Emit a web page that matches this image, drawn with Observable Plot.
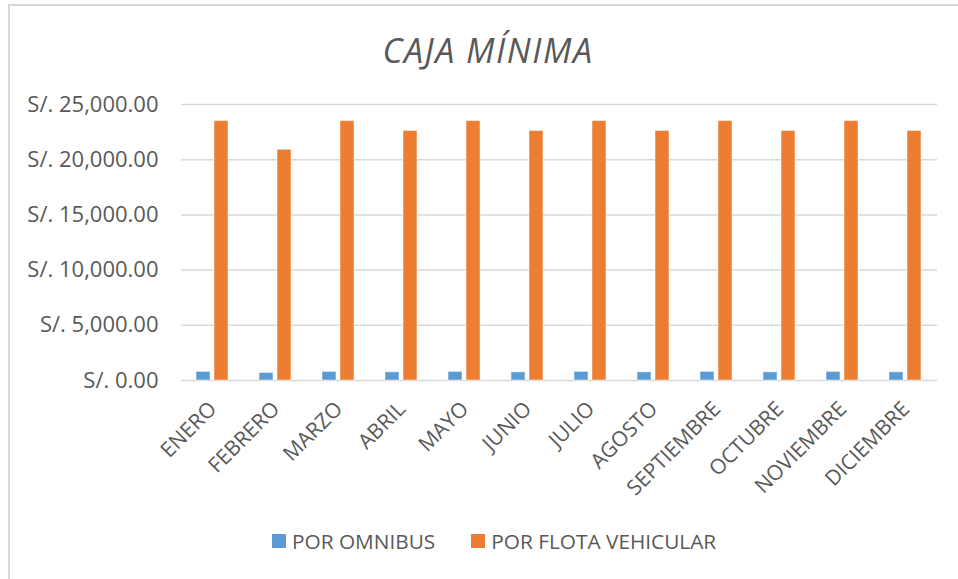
<!DOCTYPE html>
<html>
<head>
<meta charset="utf-8">
<script src="https://cdn.jsdelivr.net/npm/d3@7"></script>
<script src="https://cdn.jsdelivr.net/npm/@observablehq/plot@0.6"></script>
<style>
  html, body { margin: 0; padding: 0; background: #fff; }
  body { width: 958px; height: 579px; position: relative; overflow: hidden; font-family: "Open Sans", sans-serif; color: #595959; }
  #frame { position: absolute; left: 8px; top: 4px; width: 1000px; height: 1000px; border: 2px solid #d9d9d9; box-sizing: border-box; }
  #title { position: absolute; left: 0; width: 976px; top: 33px; text-align: center; font-size: 34px; line-height: 34px; letter-spacing: 1.5px; font-style: italic; color: #595959; }
  #chart { position: absolute; left: 0; top: 0; }
  #legend { position: absolute; top: 531px; left: 272px; display: flex; align-items: center; font-size: 20.8px; line-height: 20px; color: #595959; }
  .sw { width: 14px; height: 14px; display: inline-block; margin-right: 6px; }
  .item { display: flex; align-items: center; }
</style>
</head>
<body>
<div id="frame"></div>
<div id="title">CAJA MÍNIMA</div>
<div id="chart"></div>
<div id="legend"></div>
<script>
const months = ["ENERO","FEBRERO","MARZO","ABRIL","MAYO","JUNIO","JULIO","AGOSTO","SEPTIEMBRE","OCTUBRE","NOVIEMBRE","DICIEMBRE"];
const series = ["POR OMNIBUS","POR FLOTA VEHICULAR"];
const colors = ["#5b9bd5","#ed7d31"];
const omnibus = [780, 680, 780, 740, 780, 740, 780, 740, 780, 740, 780, 740];
const flota = [23500, 20900, 23500, 22600, 23500, 22600, 23500, 22600, 23500, 22600, 23500, 22600];
const yTicks = [0, 5000, 10000, 15000, 20000, 25000];

const rows = [];
months.forEach((m, i) => {
  rows.push({month: m, serie: series[0], value: omnibus[i]});
  rows.push({month: m, serie: series[1], value: flota[i]});
});

const fmt = d => "S/. " + d3.format(",.2f")(d);

const chart = Plot.plot({
  width: 958,
  height: 520,
  marginTop: 104,
  marginBottom: 140,
  marginLeft: 178,
  marginRight: 18,
  style: {fontFamily: "Open Sans", color: "#595959", background: "transparent", overflow: "visible"},
  fx: {domain: months, paddingInner: 0, paddingOuter: 0, label: null, axis: null},
  x: {domain: series, paddingInner: 0.2, paddingOuter: 0.845, axis: null, label: null},
  y: {domain: [0, 25000], axis: null, label: null},
  color: {domain: series, range: colors},
  marks: [
    Plot.ruleY(yTicks, {stroke: "#d9d9d9", strokeWidth: 1.5}),
    Plot.barY(rows, {fx: "month", x: "serie", y: "value", fill: "serie", stroke: "white", strokeWidth: 1, strokeOpacity: 0.5}),
    Plot.axisY(yTicks, {tickFormat: fmt, tickSize: 0, tickPadding: 23, fontSize: 22, label: null, facetAnchor: "left"}),
    Plot.axisFx({anchor: "bottom", tickRotate: -45, tickSize: 0, tickPadding: 25, fontSize: 21, label: null})
  ]
});
document.getElementById("chart").appendChild(chart);

const legend = document.getElementById("legend");
series.forEach((s, i) => {
  const it = document.createElement("div");
  it.className = "item";
  if (i > 0) it.style.marginLeft = "36px";
  const sw = document.createElement("span");
  sw.className = "sw";
  sw.style.background = colors[i];
  const tx = document.createElement("span");
  tx.textContent = s;
  it.appendChild(sw);
  it.appendChild(tx);
  legend.appendChild(it);
});
</script>
</body>
</html>
